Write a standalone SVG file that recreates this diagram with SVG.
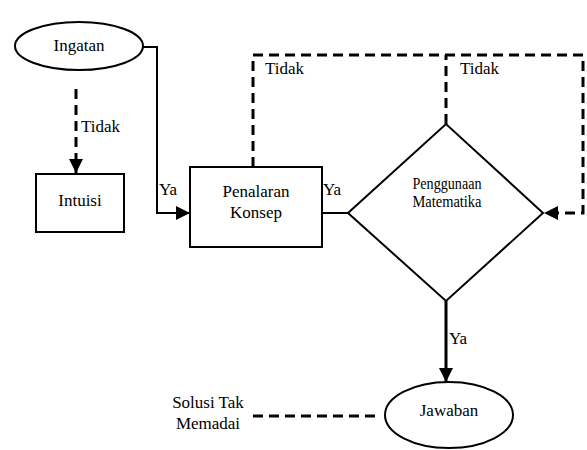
<svg xmlns="http://www.w3.org/2000/svg" width="587" height="450" viewBox="0 0 587 450">
<style>
.shape{fill:#fff;stroke:#000;stroke-width:2}
.line{fill:none;stroke:#000;stroke-width:2}
.bold{fill:none;stroke:#000;stroke-width:3}
.dash{fill:none;stroke:#000;stroke-width:3;stroke-dasharray:10,6}
</style>
<defs>
<marker id="arr" markerWidth="14" markerHeight="14" refX="14" refY="7" orient="auto" markerUnits="userSpaceOnUse">
<path d="M0,0 L14,7 L0,14 Z" fill="#000"/>
</marker>
</defs>
<rect width="587" height="450" fill="#fff"/>
<g id="connectors">
<polyline class="line" points="143,47 157,47 157,213 190,213" marker-end="url(#arr)"/>
<line class="dash" x1="76" y1="89" x2="76" y2="173" marker-end="url(#arr)"/>
<line class="line" x1="322" y1="213" x2="348" y2="213"/>
<polyline class="dash" points="253,167 253,55 583,55 583,213 544,213" marker-end="url(#arr)"/>
<line class="dash" x1="446" y1="124" x2="446" y2="55"/>
<line class="bold" x1="446" y1="301" x2="446" y2="382" marker-end="url(#arr)"/>
<line class="dash" x1="253" y1="416" x2="381" y2="416"/>
</g>
<g id="labels">
<text x="81" y="132" font-family="Liberation Serif" font-size="17">Tidak</text>
<text x="159" y="195" font-family="Liberation Serif" font-size="17">Ya</text>
<text x="323" y="195" font-family="Liberation Serif" font-size="17">Ya</text>
<text x="265" y="74" font-family="Liberation Serif" font-size="17">Tidak</text>
<text x="460" y="74" font-family="Liberation Serif" font-size="17">Tidak</text>
<text x="449" y="344" font-family="Liberation Serif" font-size="17">Ya</text>
<text x="208" y="408" text-anchor="middle" font-family="Liberation Serif" font-size="17">Solusi Tak</text>
<text x="208" y="429" text-anchor="middle" font-family="Liberation Serif" font-size="17">Memadai</text>
</g>
<g id="ingatan">
<ellipse class="shape" cx="79" cy="46" rx="64" ry="24"/>
<text x="79" y="51" text-anchor="middle" font-family="Liberation Serif" font-size="17">Ingatan</text>
</g>
<g id="intuisi">
<rect class="shape" x="36" y="174" width="88" height="58"/>
<text x="80" y="206" text-anchor="middle" font-family="Liberation Serif" font-size="17">Intuisi</text>
</g>
<g id="penalaran">
<rect class="shape" x="190" y="167" width="132" height="80"/>
<text x="256" y="197" text-anchor="middle" font-family="Liberation Serif" font-size="17">Penalaran</text>
<text x="256" y="218" text-anchor="middle" font-family="Liberation Serif" font-size="17">Konsep</text>
</g>
<g id="penggunaan">
<polygon class="shape" points="348,213 446,124 543,213 446,301"/>
<text x="447" y="189" text-anchor="middle" font-family="Liberation Serif" font-size="16" textLength="69" lengthAdjust="spacingAndGlyphs">Penggunaan</text>
<text x="447" y="207" text-anchor="middle" font-family="Liberation Serif" font-size="16" textLength="69" lengthAdjust="spacingAndGlyphs">Matematika</text>
</g>
<g id="jawaban">
<ellipse class="shape" cx="449" cy="415" rx="64" ry="33"/>
<text x="449" y="416" text-anchor="middle" font-family="Liberation Serif" font-size="17">Jawaban</text>
</g>
</svg>
